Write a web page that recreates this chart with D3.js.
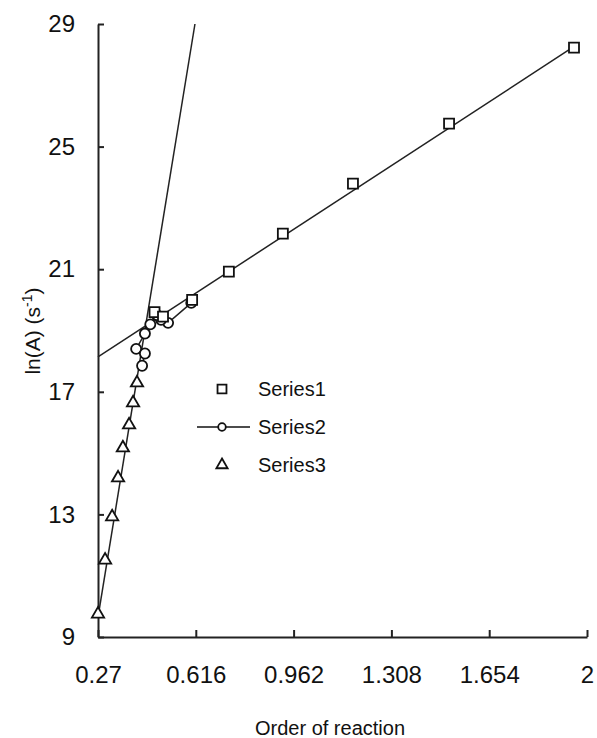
<!DOCTYPE html>
<html>
<head>
<meta charset="utf-8">
<script src="https://cdn.jsdelivr.net/npm/d3@7"></script>
<style>
  body { margin: 0; background: #fff; }
  text { font-family: "Liberation Sans", Arial, sans-serif; fill: #111; }
</style>
</head>
<body>
<div id="chart"></div>
<script>
const width = 597, height = 738;

// values
const xTicks = [0.27, 0.616, 0.962, 1.308, 1.654, 2];
const yTicks = [9, 13, 17, 21, 25, 29];

const s1X = [0.47, 0.50, 0.603, 0.733, 0.924, 1.172, 1.512, 1.954];
const s1Y = [19.6, 19.45, 20.0, 20.92, 22.16, 23.79, 25.75, 28.23];

const s2X = [0.60, 0.518, 0.493, 0.479, 0.455, 0.436, 0.405, 0.436, 0.426];
const s2Y = [19.9, 19.25, 19.35, 19.5, 19.2, 18.9, 18.4, 18.25, 17.85];

const s3X = [0.27, 0.295, 0.320, 0.341, 0.358, 0.380, 0.394, 0.408];
const s3Y = [9.75, 11.51, 12.92, 14.19, 15.17, 15.92, 16.64, 17.29];

// linear trendlines (start / end)
const t1X = [0.27, 1.96], t1Y = [18.14, 28.3];
const t3X = [0.27, 0.613], t3Y = [9.65, 29];

const seriesNames = ["Series1", "Series2", "Series3"];

const svg = d3.select("#chart").append("svg")
  .attr("width", width)
  .attr("height", height);

const x = d3.scaleLinear().domain([0.27, 2]).range([98, 587]);
const y = d3.scaleLinear().domain([9, 29]).range([637, 24]);

const zip = (xs, ys) => xs.map((v, i) => [v, ys[i]]);
const line = d3.line().x(d => x(d[0])).y(d => y(d[1]));

// axes
const xAxis = svg.append("g")
  .attr("transform", `translate(0,${y(9)})`)
  .call(d3.axisBottom(x).tickValues(xTicks).tickFormat(d => String(d))
    .tickSizeInner(-7).tickSizeOuter(0).tickPadding(29));
const yAxis = svg.append("g")
  .attr("transform", `translate(${x(0.27)},0)`)
  .call(d3.axisLeft(y).tickValues(yTicks).tickFormat(d3.format("d"))
    .tickSizeInner(-6).tickSizeOuter(0).tickPadding(23));

[xAxis, yAxis].forEach(g => {
  g.select(".domain").attr("stroke", "#222").attr("stroke-width", 2);
  g.selectAll(".tick line").attr("stroke", "#222").attr("stroke-width", 2);
  g.selectAll(".tick text").style("font-size", "24px").attr("fill", "#111");
});

// trendlines
svg.append("path").datum(zip(t1X, t1Y))
  .attr("d", line).attr("fill", "none").attr("stroke", "#222").attr("stroke-width", 1.5);
svg.append("path").datum(zip(t3X, t3Y))
  .attr("d", line).attr("fill", "none").attr("stroke", "#222").attr("stroke-width", 1.5);

// series 2 line
svg.append("path").datum(zip(s2X, s2Y))
  .attr("d", line).attr("fill", "none").attr("stroke", "#222").attr("stroke-width", 1.5);

const sym = {
  sq: d3.symbol().type(d3.symbolSquare).size(100),
  ci: d3.symbol().type(d3.symbolCircle).size(80),
  tr: d3.symbol().type(d3.symbolTriangle).size(65)
};

function markers(data, s) {
  svg.append("g").selectAll("path")
    .data(data)
    .join("path")
    .attr("transform", d => `translate(${x(d[0])},${y(d[1])})`)
    .attr("d", s)
    .attr("fill", "#fff")
    .attr("stroke", "#111")
    .attr("stroke-width", 1.8);
}
markers(zip(s2X, s2Y), sym.ci);
markers(zip(s3X, s3Y), sym.tr);
markers(zip(s1X, s1Y), sym.sq);

// legend
const legend = svg.append("g");
const legY = [389, 427, 465];
seriesNames.forEach((name, i) => {
  if (i === 1) {
    legend.append("line")
      .attr("x1", 197).attr("x2", 250).attr("y1", legY[i]).attr("y2", legY[i])
      .attr("stroke", "#111").attr("stroke-width", 1.5);
  }
  legend.append("path")
    .attr("transform", `translate(222,${legY[i]})`)
    .attr("d", i === 0 ? d3.symbol().type(d3.symbolSquare).size(80)() :
      i === 1 ? d3.symbol().type(d3.symbolCircle).size(45)() :
      d3.symbol().type(d3.symbolTriangle).size(55)())
    .attr("fill", "#fff").attr("stroke", "#111").attr("stroke-width", 1.8);
  legend.append("text")
    .attr("x", 258).attr("y", legY[i])
    .attr("dy", "0.35em")
    .style("font-size", "20px")
    .text(name);
});

// axis titles
svg.append("text")
  .attr("x", 330).attr("y", 735)
  .attr("text-anchor", "middle")
  .style("font-size", "20px")
  .text("Order of reaction");

const yt = svg.append("text")
  .attr("transform", "translate(40,331) rotate(-90)")
  .attr("text-anchor", "middle")
  .style("font-size", "21px");
yt.append("tspan").text("ln(A) (s");
yt.append("tspan").attr("dy", -8).style("font-size", "14px").text("-1");
yt.append("tspan").attr("dy", 8).text(")");
</script>
</body>
</html>
